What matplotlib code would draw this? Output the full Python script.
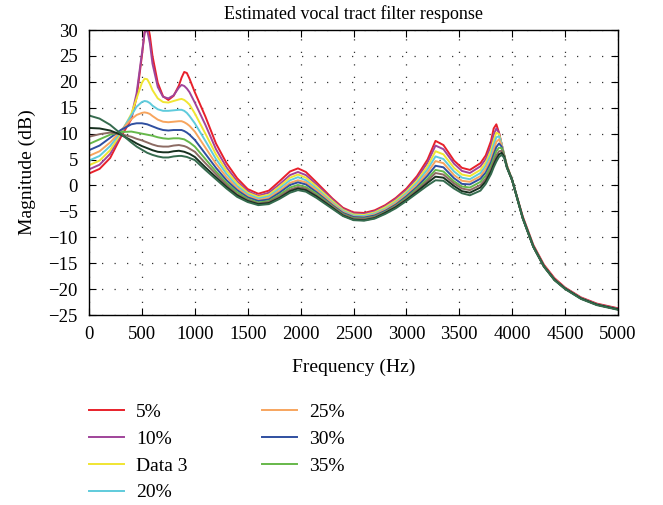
import numpy as np
import matplotlib.pyplot as plt

plt.rcParams['font.family'] = ['Liberation Serif', 'DejaVu Serif']

# Frequency grid (Hz)
freq = [0, 100, 200, 300, 400, 450, 500, 525, 550, 575, 600, 650, 700, 750, 800, 850, 875, 900, 925, 950, 1000,
        1100, 1200, 1300, 1400, 1500, 1600, 1700, 1800, 1900, 1975, 2050,
        2150, 2300, 2400, 2500, 2600, 2700, 2800, 2900, 3000, 3100, 3200, 3275, 3350, 3450, 3525,
        3600, 3700, 3750, 3800, 3825, 3850, 3875, 3900, 3925, 3950, 4000,
        4100, 4200, 4300, 4400, 4500, 4650, 4800, 5000]

# Magnitudes (dB)
mag_5 = [2.3, 3.2, 5.3, 9.3, 12.8, 17.0, 25.0, 29.5, 31.5, 29.0, 25.0, 19.8, 17.2, 16.5, 17.3, 19.3, 20.8, 21.9, 21.7, 20.6, 18.0,
         13.3, 8.1, 4.3, 1.4, -0.7, -1.6, -1.0, 0.8, 2.7, 3.3, 2.6,
         0.6, -2.5, -4.3, -5.2, -5.3, -4.8, -3.8, -2.4, -0.6, 1.8, 5.0, 8.6, 7.8, 4.8, 3.4,
         3.0, 4.3, 5.8, 8.6, 11.0, 11.8, 10.2, 7.9, 5.7, 3.8, 1.0,
         -6.0, -11.5, -15.3, -17.9, -19.7, -21.6, -22.8, -23.7]
mag_10 = [3.1, 4.0, 6.1, 9.7, 13.3, 17.8, 25.5, 29.5, 30.0, 27.5, 23.5, 19.0, 17.1, 16.8, 17.4, 18.9, 19.4, 19.2, 18.7, 18.0, 16.0,
          11.7, 7.0, 3.5, 0.8, -1.1, -2.0, -1.4, 0.2, 2.0, 2.6, 2.0,
          0.2, -2.7, -4.5, -5.4, -5.5, -5.0, -4.0, -2.6, -0.9, 1.4, 4.4, 7.7, 7.0, 4.2, 2.8,
          2.4, 3.7, 5.1, 7.7, 9.8, 11.0, 10.2, 8.0, 5.8, 3.8, 1.0,
          -6.2, -11.7, -15.5, -18.1, -19.8, -21.7, -22.9, -23.8]
mag_d3 = [3.9, 4.8, 6.8, 10.0, 13.8, 16.8, 19.8, 20.6, 20.5, 19.6, 18.4, 16.8, 16.1, 16.0, 16.3, 16.6, 16.7, 16.5, 16.1, 15.6, 13.9,
          10.0, 6.0, 2.8, 0.4, -1.4, -2.2, -1.8, -0.2, 1.5, 2.1, 1.5,
          -0.2, -3.0, -4.7, -5.6, -5.7, -5.2, -4.2, -2.9, -1.2, 0.9, 3.7, 6.6, 6.0, 3.4, 2.1,
          1.8, 3.0, 4.4, 6.8, 8.7, 10.2, 9.9, 8.0, 5.8, 3.8, 1.0,
          -6.3, -11.8, -15.6, -18.2, -19.9, -21.8, -23.0, -23.9]
mag_20 = [4.8, 5.7, 7.6, 10.3, 13.5, 15.2, 16.1, 16.3, 16.2, 15.9, 15.4, 14.7, 14.4, 14.4, 14.5, 14.6, 14.6, 14.4, 14.0, 13.4, 12.0,
          8.6, 5.1, 2.2, -0.1, -1.7, -2.5, -2.1, -0.6, 1.0, 1.6, 1.0,
          -0.6, -3.3, -4.9, -5.8, -5.9, -5.4, -4.5, -3.2, -1.5, 0.5, 3.1, 5.6, 5.1, 2.7, 1.5,
          1.2, 2.4, 3.8, 6.0, 7.8, 9.3, 9.5, 8.0, 5.8, 3.7, 1.0,
          -6.3, -11.8, -15.6, -18.2, -19.9, -21.8, -23.0, -23.9]
mag_25 = [5.7, 6.6, 8.3, 10.5, 12.8, 13.6, 14.0, 14.1, 14.0, 13.8, 13.4, 12.7, 12.3, 12.2, 12.3, 12.4, 12.4, 12.2, 11.9, 11.5, 10.4,
          7.3, 4.2, 1.6, -0.5, -2.0, -2.8, -2.4, -1.0, 0.5, 1.0, 0.6,
          -0.9, -3.5, -5.1, -6.0, -6.1, -5.6, -4.7, -3.4, -1.8, 0.1, 2.5, 4.7, 4.3, 2.0, 0.9,
          0.7, 1.8, 3.2, 5.2, 6.9, 8.4, 8.9, 7.8, 5.8, 3.7, 1.0,
          -6.3, -11.8, -15.6, -18.2, -19.9, -21.8, -23.0, -23.9]
mag_30 = [6.8, 7.7, 9.2, 10.7, 11.8, 12.0, 12.0, 11.9, 11.8, 11.6, 11.4, 11.0, 10.7, 10.6, 10.7, 10.7, 10.7, 10.5, 10.2, 9.8, 8.8,
          6.1, 3.4, 1.0, -0.9, -2.3, -3.0, -2.7, -1.4, 0.1, 0.6, 0.2,
          -1.3, -3.8, -5.3, -6.1, -6.2, -5.8, -4.9, -3.7, -2.1, -0.3, 1.9, 3.8, 3.5, 1.4, 0.3,
          0.2, 1.3, 2.5, 4.5, 6.0, 7.4, 8.1, 7.5, 5.7, 3.6, 1.0,
          -6.3, -11.8, -15.6, -18.2, -19.9, -21.8, -23.0, -23.9]
mag_35 = [8.0, 8.9, 9.8, 10.3, 10.4, 10.2, 10.0, 9.9, 9.8, 9.7, 9.6, 9.3, 9.1, 9.0, 9.1, 9.1, 9.0, 8.9, 8.6, 8.3, 7.5,
          5.1, 2.7, 0.5, -1.3, -2.6, -3.3, -3.0, -1.8, -0.4, 0.1, -0.3,
          -1.6, -4.0, -5.5, -6.3, -6.4, -6.0, -5.1, -3.9, -2.4, -0.6, 1.3, 3.0, 2.7, 0.8, -0.2,
          -0.4, 0.7, 1.9, 3.8, 5.2, 6.6, 7.3, 7.2, 5.7, 3.6, 1.0,
          -6.3, -11.8, -15.6, -18.2, -19.9, -21.8, -23.0, -23.9]
mag_40 = [9.4, 9.9, 10.2, 9.9, 9.4, 9.0, 8.7, 8.5, 8.3, 8.1, 7.9, 7.6, 7.5, 7.5, 7.7, 7.8, 7.7, 7.6, 7.4, 7.1, 6.5,
          4.3, 2.2, 0.1, -1.7, -2.8, -3.5, -3.2, -2.1, -0.8, -0.3, -0.6,
          -1.9, -4.1, -5.6, -6.4, -6.5, -6.1, -5.2, -4.0, -2.6, -0.9, 0.9, 2.4, 2.1, 0.4, -0.6,
          -0.9, 0.1, 1.3, 3.2, 4.5, 5.8, 6.6, 6.7, 5.6, 3.5, 1.0,
          -6.3, -11.8, -15.6, -18.2, -19.9, -21.8, -23.0, -23.9]
mag_45 = [11.1, 11.0, 10.6, 9.8, 8.7, 8.1, 7.6, 7.4, 7.2, 7.0, 6.8, 6.5, 6.4, 6.4, 6.6, 6.7, 6.6, 6.5, 6.3, 6.1, 5.5,
          3.5, 1.6, -0.3, -1.9, -3.0, -3.6, -3.4, -2.4, -1.1, -0.6, -0.9,
          -2.1, -4.3, -5.8, -6.6, -6.7, -6.3, -5.3, -4.2, -2.8, -1.2, 0.5, 1.7, 1.5, -0.1, -1.1,
          -1.4, -0.4, 0.8, 2.7, 4.0, 5.1, 6.0, 6.3, 5.5, 3.5, 1.0,
          -6.3, -11.8, -15.6, -18.2, -19.9, -21.8, -23.0, -23.9]
mag_50 = [13.5, 12.9, 11.7, 10.0, 8.3, 7.5, 6.9, 6.6, 6.3, 6.1, 5.9, 5.6, 5.4, 5.4, 5.6, 5.7, 5.7, 5.6, 5.5, 5.3, 4.9,
          3.0, 1.2, -0.6, -2.2, -3.2, -3.8, -3.6, -2.6, -1.4, -0.9, -1.2,
          -2.4, -4.5, -5.9, -6.7, -6.8, -6.4, -5.5, -4.4, -3.0, -1.5, 0.0, 1.0, 0.9, -0.6, -1.5,
          -1.9, -1.0, 0.3, 2.2, 3.5, 4.6, 5.5, 5.9, 5.3, 3.4, 1.0,
          -6.4, -11.9, -15.7, -18.3, -20.0, -21.9, -23.1, -24.0]

series = [mag_5, mag_10, mag_d3, mag_20, mag_25, mag_30, mag_35, mag_40, mag_45, mag_50]
labels = ['5%', '10%', 'Data 3', '20%', '25%', '30%', '35%', None, None, None]
colors = ['#e8202a', '#a0449a', '#f0e532', '#5fcbdc', '#f7a55e', '#2f4fa0',
          '#66b84a', '#8c6b63', '#17301f', '#356b4e']

fig = plt.figure(figsize=(6.63, 5.05), dpi=100)
ax = fig.add_axes([89 / 663, 1 - 315 / 505, (618 - 89) / 663, (315 - 30) / 505])

for y, lab, c in zip(series, labels, colors):
    ax.plot(freq, y, color=c, lw=1.4, label=lab)

ax.set_xlim(0, 5000)
ax.set_ylim(-25, 30)
ax.set_xticks(np.arange(0, 5001, 500))
ax.set_yticks(np.arange(-25, 31, 5))
ax.tick_params(direction='in', top=True, right=True, length=5, labelsize=13.5, pad=8)
ax.grid(True, linestyle=(0, (1, 9)), color='#333333', linewidth=0.9)
for s in ax.spines.values():
    s.set_linewidth(1.0)

ax.set_title('Estimated vocal tract filter response', fontsize=13, pad=8)
ax.set_xlabel('Frequency (Hz)', fontsize=14, labelpad=11)
ax.set_ylabel('Magnitude (dB)', fontsize=14, labelpad=9)

handles, labs = ax.get_legend_handles_labels()
fig.legend(handles, labs, loc='upper left', bbox_to_anchor=(71 / 663, 1 - 386 / 505),
           ncol=2, frameon=False, fontsize=14, handlelength=1.8, handletextpad=0.65,
           columnspacing=3.8, labelspacing=0.47)

plt.savefig('out.png', dpi=100)
